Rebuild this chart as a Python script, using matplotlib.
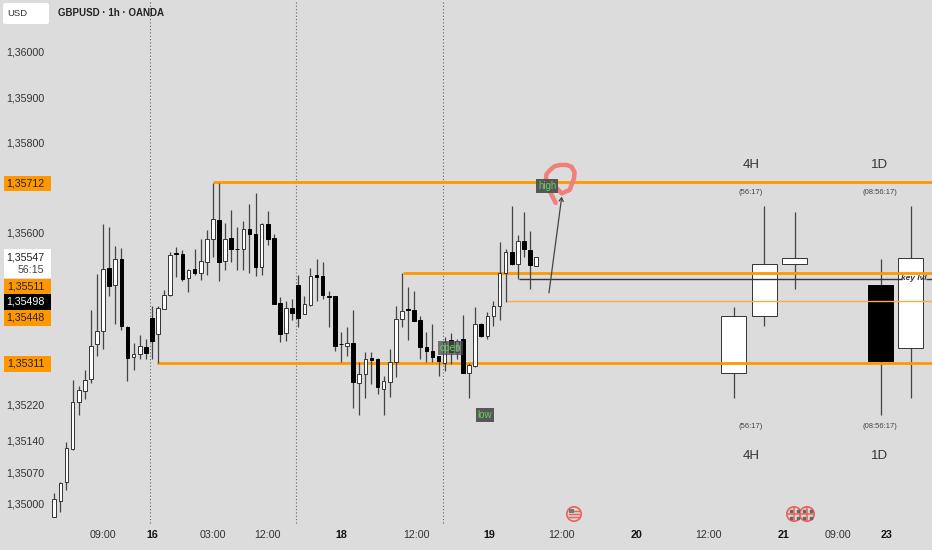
#!/usr/bin/env python3
"""GBPUSD 1h candle chart with drawn levels and 4H / 1D projection candles."""

import matplotlib
matplotlib.use("Agg")
import matplotlib.pyplot as plt
from matplotlib.patches import Circle, FancyBboxPatch, Rectangle
from matplotlib.transforms import Affine2D

opens = [
    1.34972, 1.35007, 1.35049, 1.35121, 1.35225, 1.35250, 1.35276, 1.35353, 1.35383, 1.35521,
    1.35485, 1.35541, 1.35392, 1.35324, 1.35331, 1.35347, 1.35411, 1.35375, 1.35432, 1.35462,
    1.35556, 1.35552, 1.35499, 1.35520, 1.35510, 1.35536, 1.35586, 1.35628, 1.35538, 1.35589,
    1.35564, 1.35563, 1.35608, 1.35597, 1.35525, 1.35619, 1.35589, 1.35445, 1.35379, 1.35433,
    1.35485, 1.35421, 1.35440, 1.35506, 1.35504, 1.35461, 1.35459, 1.35354, 1.35350, 1.35356,
    1.35267, 1.35287, 1.35322, 1.35320, 1.35255, 1.35269, 1.35314, 1.35409, 1.35431, 1.35429,
    1.35408, 1.35348, 1.35338, 1.35327, 1.35311, 1.35363, 1.35337, 1.35365, 1.35289, 1.35305,
    1.35399, 1.35372, 1.35416, 1.35438, 1.35510, 1.35558, 1.35531, 1.35581, 1.35562, 1.35527,
]
highs = [
    1.35025, 1.35049, 1.35136, 1.35274, 1.35260, 1.35296, 1.35428, 1.35509, 1.35619, 1.35612,
    1.35571, 1.35566, 1.35394, 1.35357, 1.35374, 1.35365, 1.35438, 1.35438, 1.35473, 1.35558,
    1.35568, 1.35562, 1.35520, 1.35563, 1.35586, 1.35605, 1.35711, 1.35710, 1.35621, 1.35650,
    1.35612, 1.35625, 1.35664, 1.35687, 1.35621, 1.35649, 1.35597, 1.35457, 1.35449, 1.35453,
    1.35507, 1.35459, 1.35521, 1.35541, 1.35535, 1.35472, 1.35460, 1.35380, 1.35392, 1.35429,
    1.35314, 1.35337, 1.35337, 1.35322, 1.35283, 1.35342, 1.35438, 1.35510, 1.35481, 1.35472,
    1.35416, 1.35380, 1.35398, 1.35327, 1.35369, 1.35379, 1.35364, 1.35418, 1.35312, 1.35436,
    1.35401, 1.35425, 1.35450, 1.35579, 1.35563, 1.35660, 1.35595, 1.35645, 1.35604, 1.35547,
]
lows = [
    1.34970, 1.34982, 1.35031, 1.35119, 1.35197, 1.35232, 1.35267, 1.35327, 1.35343, 1.35459,
    1.35398, 1.35385, 1.35271, 1.35296, 1.35320, 1.35321, 1.35321, 1.35311, 1.35433, 1.35460,
    1.35503, 1.35494, 1.35469, 1.35507, 1.35496, 1.35507, 1.35546, 1.35494, 1.35518, 1.35535,
    1.35518, 1.35518, 1.35512, 1.35504, 1.35507, 1.35572, 1.35442, 1.35358, 1.35361, 1.35407,
    1.35392, 1.35420, 1.35437, 1.35450, 1.35453, 1.35392, 1.35339, 1.35313, 1.35327, 1.35212,
    1.35196, 1.35235, 1.35266, 1.35243, 1.35197, 1.35236, 1.35281, 1.35391, 1.35363, 1.35405,
    1.35321, 1.35315, 1.35315, 1.35284, 1.35293, 1.35310, 1.35320, 1.35290, 1.35234, 1.35302,
    1.35370, 1.35364, 1.35394, 1.35407, 1.35446, 1.35529, 1.35497, 1.35547, 1.35475, 1.35527,
]
closes = [
    1.35011, 1.35046, 1.35123, 1.35226, 1.35251, 1.35274, 1.35350, 1.35383, 1.35520, 1.35483,
    1.35541, 1.35394, 1.35322, 1.35332, 1.35350, 1.35335, 1.35361, 1.35433, 1.35462, 1.35550,
    1.35552, 1.35497, 1.35518, 1.35511, 1.35538, 1.35586, 1.35631, 1.35536, 1.35587, 1.35563,
    1.35563, 1.35608, 1.35598, 1.35525, 1.35619, 1.35586, 1.35442, 1.35377, 1.35433, 1.35423,
    1.35411, 1.35442, 1.35504, 1.35503, 1.35462, 1.35458, 1.35350, 1.35353, 1.35357, 1.35269,
    1.35287, 1.35321, 1.35319, 1.35258, 1.35272, 1.35314, 1.35409, 1.35427, 1.35430, 1.35405,
    1.35347, 1.35338, 1.35326, 1.35317, 1.35359, 1.35337, 1.35361, 1.35290, 1.35307, 1.35397,
    1.35371, 1.35416, 1.35438, 1.35510, 1.35558, 1.35531, 1.35581, 1.35563, 1.35529, 1.35547,
]

# higher timeframe candles drawn on the right
htf_bars = [111.4, 116.4, 121.4, 135.5, 140.4]
htf_opens = [1.35289, 1.35416, 1.35531, 1.35484, 1.35345]
htf_highs = [1.35436, 1.35659, 1.35645, 1.35541, 1.35659]
htf_lows = [1.35235, 1.35394, 1.35476, 1.35196, 1.35235]
htf_closes = [1.35416, 1.35531, 1.35545, 1.35317, 1.35545]

price_ticks = [1.36000, 1.35900, 1.35800, 1.35600, 1.35220, 1.35140, 1.35070, 1.35000]
time_ticks = [8, 16, 26, 35, 47.1, 59.3, 71.3, 83.2, 95.4, 107.3, 119.5, 128.5, 136.5]
time_labels = ["09:00", "16", "03:00", "12:00", "18", "12:00", "19", "12:00", "20", "12:00",
               "21", "09:00", "23"]
day_labels = {"16", "18", "19", "20", "21", "23"}
session_bars = [15.7, 39.6, 63.7]

brush_bars = [82.2, 81.3, 80.6, 80.7, 81.3, 82.0, 82.9, 84.0, 84.8, 85.3, 85.2, 84.5, 83.2, 82.1]
brush_prices = [1.35666, 1.35690, 1.35717, 1.35730, 1.35739, 1.35747, 1.35750, 1.35750, 1.35746,
                1.35734, 1.35720, 1.35695, 1.35687, 1.35702]

BG = "#dcdcdc"
ORANGE = "#ff9800"
WICK = "#444444"

plt.rcParams["font.family"] = ["Liberation Sans", "DejaVu Sans"]
fig = plt.figure(figsize=(9.32, 5.5), dpi=100, facecolor=BG)
ax = fig.add_axes([0, 0, 1, 1], facecolor=BG)
ax.set_xlim(-8.9, 143.9)
ax.set_ylim(1.34898, 1.36115)
for spine in ax.spines.values():
    spine.set_visible(False)

# pixel coordinates, origin top left, for the overlay furniture
px = Affine2D().scale(1 / 932, -1 / 550).translate(0, 1) + fig.transFigure


def draw_candles(bars, o, h, l, c, width, zorder):
    ax.vlines(bars, l, h, color=WICK, linewidth=0.9, zorder=zorder)
    for x, op, cl in zip(bars, o, c):
        up = cl >= op
        ax.bar(x, abs(cl - op), width=width, bottom=min(op, cl), color="white" if up else "black",
               edgecolor="#333333" if up else "black", linewidth=0.7, zorder=zorder + 0.1)


def badge(y0, y1, text, face, color="#222222", sub=None):
    ax.add_patch(Rectangle((4, y0), 47, y1 - y0, transform=px, facecolor=face, edgecolor="none",
                           zorder=6))
    y_text = (y0 + y1) / 2 if sub is None else y0 + 8
    ax.text(44.5, y_text, text, transform=px, ha="right", va="center", fontsize=7.7, color=color, zorder=7)
    if sub is not None:
        ax.text(44.5, y0 + 21, sub, transform=px, ha="right", va="center", fontsize=7.7, color="#444444",
                zorder=7)


for bar in session_bars:
    ax.vlines(bar, 1.34958, 1.36115, color="#666666", linewidth=0.8, linestyles=(0, (1, 2)), zorder=1)

draw_candles(list(range(len(opens))), opens, highs, lows, closes, 0.6, 3)
draw_candles(htf_bars, htf_opens, htf_highs, htf_lows, htf_closes, 4.1, 1.5)

# drawn levels
right = 143.9
ax.hlines(1.35712, 26, right, color=ORANGE, linewidth=2.0, zorder=2)
ax.hlines(1.35311, 16.9, right, color=ORANGE, linewidth=2.0, zorder=2)
ax.hlines(1.35511, 57.2, right, color=ORANGE, linewidth=2.0, zorder=2)
ax.hlines(1.35448, 74.2, right, color="#ffab40", linewidth=1.0, zorder=2)
ax.hlines(1.35498, 76.2, 139.0, color="#333333", linewidth=1.0, zorder=2)
ax.hlines(1.35498, 142.9, right, color="#333333", linewidth=1.0, zorder=2)
ax.text(141.0, 1.35498, "key lvl", ha="center", va="center", fontsize=6.0, style="italic",
        fontweight="bold", color="#333333", zorder=4)

# hand drawn mark and arrow
ax.plot(brush_bars, brush_prices, color="#f0807a", linewidth=3.2, solid_capstyle="round",
        solid_joinstyle="round", zorder=5)
ax.annotate("", xy=(83.2, 1.35680), xytext=(81.1, 1.35467),
            arrowprops=dict(arrowstyle="->,head_length=0.25,head_width=0.15", color="#444444",
                            linewidth=0.9, shrinkA=0, shrinkB=0), zorder=5)

for bar, price, label, alpha in [(80.8, 1.35704, "high", 0.95), (65, 1.35345, "open", 0.75),
                                 (70.6, 1.35197, "low", 0.95)]:
    ax.text(bar, price, label, ha="center", va="center", fontsize=7, color="#5fd35f", zorder=6,
            bbox=dict(boxstyle="square,pad=0.2", facecolor="#505050", edgecolor="none", alpha=alpha))

# timeframe captions
for x_px, name, timer in [(751, "4H", "(56:17)"), (880, "1D", "(08:56:17)")]:
    for y_name, y_timer in [(165, 193), (456, 427)]:
        ax.text(x_px, y_name, name, transform=px, ha="center", va="center", fontsize=9.5, color="#333333")
        ax.text(x_px, y_timer, timer, transform=px, ha="center", va="center", fontsize=5.5, color="#444444")

# price axis, labels sit inside the plot
ax.set_yticks(price_ticks)
ax.set_yticklabels([f"{p:.5f}".replace(".", ",") for p in price_ticks], fontsize=7.7, color="#333333")
ax.tick_params(axis="y", length=0, pad=-32)

ax.set_xticks(time_ticks)
ax.set_xticklabels(time_labels, fontsize=7.7, color="#333333")
for tick in ax.get_xticklabels():
    if tick.get_text() in day_labels:
        tick.set_fontweight("bold")
        tick.set_color("#111111")
ax.tick_params(axis="x", length=0, pad=-14.5)

badge(176, 191, "1,35712", ORANGE)
badge(249, 278, "1,35547", "white", sub="56:15")
badge(279, 294, "1,35511", ORANGE)
badge(294, 310, "1,35498", "black", color="white")
badge(310, 326, "1,35448", ORANGE)
badge(356, 372, "1,35311", ORANGE)

ax.add_patch(FancyBboxPatch((3, 3), 46, 21, boxstyle="round,pad=0,rounding_size=2", transform=px,
                            facecolor="white", edgecolor="none", zorder=6))
ax.text(17, 14, "USD", transform=px, ha="center", va="center", fontsize=6.8, color="#333333", zorder=7)
ax.text(58, 13.5, "GBPUSD · 1h · OANDA", transform=px, ha="left", va="center", fontsize=7.0,
        fontweight="bold", color="#222222", zorder=7)

# calendar event icons
for x_px, stripes in [(574, True), (794, False), (807, False)]:
    ax.add_patch(Circle((x_px, 514), 7.2, transform=px, facecolor="#d8d8d8", edgecolor="#ee6055",
                        linewidth=1.2, zorder=5))
    if stripes:
        for y_px in (511, 514, 517):
            ax.plot([x_px - 5, x_px + 5], [y_px, y_px], transform=px, color="#ee6055", linewidth=1.0, zorder=6)
        ax.add_patch(Rectangle((x_px - 5, 509), 5, 4, transform=px, facecolor="#777777", edgecolor="none", zorder=6))
    else:
        ax.plot([x_px - 6, x_px + 6], [514, 514], transform=px, color="#ee6055", linewidth=1.1, zorder=6)
        ax.plot([x_px, x_px], [508, 520], transform=px, color="#ee6055", linewidth=1.1, zorder=6)
        for dx in (-3.5, 3.5):
            for dy in (-3.5, 3.5):
                ax.plot(x_px + dx, 514 + dy, "s", transform=px, color="#666666", markersize=1.8, zorder=6)

fig.savefig("out.png", dpi=100, facecolor=BG)
plt.close(fig)
